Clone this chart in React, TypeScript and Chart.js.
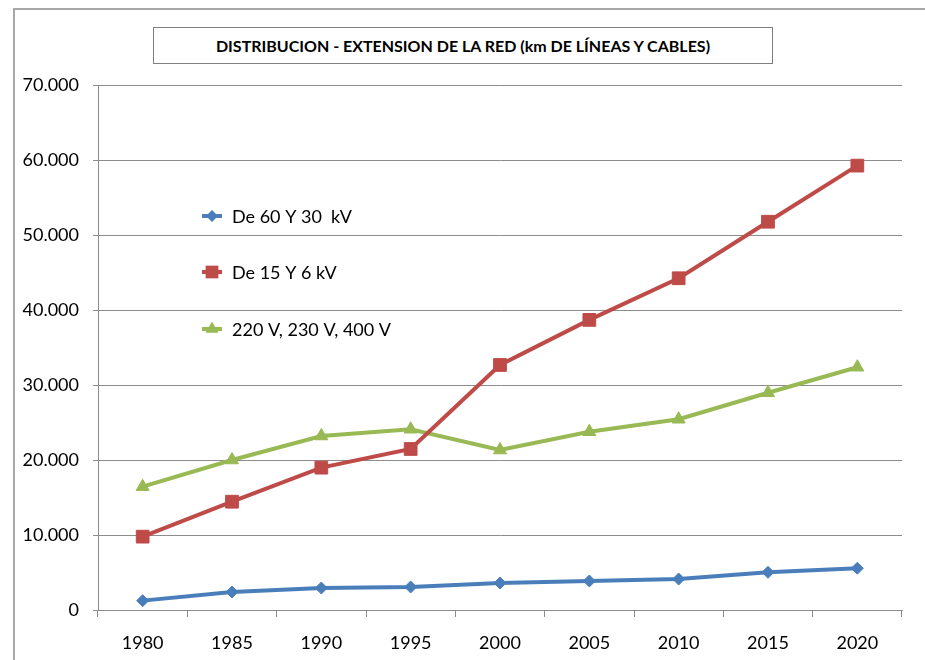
import React, { useEffect, useRef } from "react";
import { Chart, registerables } from "chart.js";

Chart.register(...registerables);

const years = ["1980", "1985", "1990", "1995", "2000", "2005", "2010", "2015", "2020"];
const seriesNames = ["De 60 Y 30  kV", "De 15 Y 6 kV", "220 V, 230 V, 400 V"];
const kv60_30 = [1250, 2400, 2930, 3070, 3600, 3870, 4130, 5030, 5570];
const kv15_6 = [9780, 14440, 18980, 21470, 32670, 38680, 44230, 51770, 59250];
const v220_400 = [16440, 20000, 23200, 24100, 21330, 23770, 25430, 28970, 32370];
const yTickValues = [0, 10000, 20000, 30000, 40000, 50000, 60000, 70000];
const titleText = "DISTRIBUCION - EXTENSION DE LA RED (km DE LÍNEAS Y CABLES)";

const colors = ["#4A7EBB", "#BE4B48", "#98B954"];
const pointStyles = ["rectRot", "rect", "triangle"];
const pointRadii = [6, 9, 7.5];

const FONT = "Lato, 'Noto Sans', sans-serif";

const fmt = (v: number) => (v === 0 ? "0" : v.toString().replace(/\B(?=(\d{3})+(?!\d))/g, "."));

const legendPlugin = {
  id: "innerLegend",
  afterDatasetsDraw(chart: any) {
    const ctx = chart.ctx;
    const ys = [216, 272, 329];
    const x0 = 202;
    ctx.save();
    seriesNames.forEach((name, i) => {
      const y = ys[i];
      const cx = x0 + 10;
      ctx.strokeStyle = colors[i];
      ctx.lineWidth = 4;
      ctx.beginPath();
      ctx.moveTo(x0, y);
      ctx.lineTo(x0 + 20, y);
      ctx.stroke();
      ctx.fillStyle = colors[i];
      const r = pointRadii[i];
      const style = pointStyles[i];
      ctx.beginPath();
      if (style === "rectRot") {
        ctx.moveTo(cx - r, y);
        ctx.lineTo(cx, y - r);
        ctx.lineTo(cx + r, y);
        ctx.lineTo(cx, y + r);
      } else if (style === "rect") {
        const s = r * Math.SQRT1_2;
        ctx.rect(cx - s, y - s, 2 * s, 2 * s);
      } else {
        const half = (r * Math.sqrt(3)) / 2;
        ctx.moveTo(cx, y - r);
        ctx.lineTo(cx + half, y + r / 2);
        ctx.lineTo(cx - half, y + r / 2);
      }
      ctx.closePath();
      ctx.fill();
      ctx.fillStyle = "#000";
      ctx.font = `18px ${FONT}`;
      ctx.textAlign = "left";
      ctx.textBaseline = "middle";
      ctx.fillText(name, x0 + 30, y + 1);
    });
    ctx.restore();
  },
};

export default function App() {
  const ref = useRef<HTMLCanvasElement>(null);

  useEffect(() => {
    if (!ref.current) return;
    const gridColor = "#8C8C8C";
    const chart = new Chart(ref.current, {
      type: "line",
      data: {
        labels: years,
        datasets: [kv60_30, kv15_6, v220_400].map((d, i) => ({
          label: seriesNames[i],
          data: d,
          borderColor: colors[i],
          backgroundColor: colors[i],
          borderWidth: 4,
          pointStyle: pointStyles[i] as any,
          pointRadius: pointRadii[i],
          pointBorderWidth: 1,
          pointBackgroundColor: colors[i],
          pointBorderColor: colors[i],
          tension: 0,
          fill: false,
        })),
      },
      options: {
        responsive: false,
        animation: false,
        devicePixelRatio: 1,
        layout: { padding: { top: 85, right: 23, left: 0, bottom: 0 } },
        plugins: {
          legend: { display: false },
          title: { display: false },
          tooltip: { enabled: false },
        },
        scales: {
          x: {
            type: "category",
            offset: true,
            grid: {
              offset: true,
              drawOnChartArea: false,
              drawTicks: true,
              tickLength: 7,
              color: gridColor,
              lineWidth: 1,
            },
            border: { display: true, color: gridColor, width: 1 },
            ticks: {
              color: "#000",
              font: { family: FONT, size: 18 },
              padding: 15,
              maxRotation: 0,
            },
            afterFit: (s: any) => {
              s.height = 50;
            },
          },
          y: {
            min: 0,
            max: 70000,
            afterBuildTicks: (s: any) => {
              s.ticks = yTickValues.map((v) => ({ value: v }));
            },
            grid: { color: gridColor, lineWidth: 1, tickLength: 5 },
            border: { display: true, color: gridColor, width: 1 },
            ticks: {
              color: "#000",
              font: { family: FONT, size: 18 },
              padding: 14,
              callback: (v: any) => fmt(Number(v)),
            },
            afterFit: (s: any) => {
              s.width = 98;
            },
          },
        },
      },
      plugins: [legendPlugin],
    });
    return () => chart.destroy();
  }, []);

  return (
    <div
      style={{
        position: "absolute",
        left: 0,
        top: 0,
        width: 925,
        height: 660,
        overflow: "hidden",
        background: "#fff",
      }}
    >
      <canvas ref={ref} width={925} height={660} style={{ position: "absolute", left: 0, top: 0 }} />
      <div
        style={{
          position: "absolute",
          left: 13,
          top: 8,
          width: 1200,
          height: 1200,
          borderLeft: "2px solid #A8A8A8",
          borderTop: "2px solid #A8A8A8",
          pointerEvents: "none",
        }}
      />
      <div
        style={{
          position: "absolute",
          left: 153,
          top: 27,
          width: 618,
          height: 35,
          border: "1px solid #7F7F7F",
          display: "flex",
          alignItems: "center",
          justifyContent: "center",
          fontFamily: FONT,
          fontWeight: 700,
          fontSize: 16,
          color: "#000",
          background: "#fff",
        }}
      >
        {titleText}
      </div>
    </div>
  );
}
